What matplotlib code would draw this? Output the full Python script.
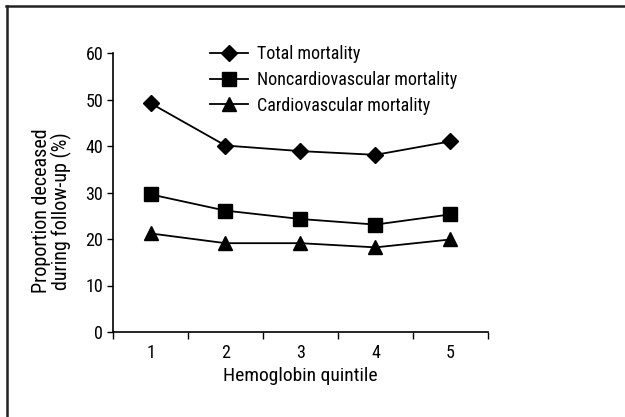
import matplotlib
matplotlib.use("Agg")
import matplotlib.pyplot as plt
from matplotlib.lines import Line2D
from matplotlib import font_manager

# pick a narrow Helvetica-like face if one is installed
narrow_file = None
cands = []
for f in font_manager.fontManager.ttflist:
    fn = f.fname.lower()
    if ('narrow' in fn or 'condensed' in fn) and 'bold' not in fn and 'italic' not in fn \
            and 'oblique' not in fn and 'light' not in fn and 'semi' not in fn and 'extra' not in fn \
            and 'mono' not in fn and 'serif' not in fn.replace('sans', '') and 'black' not in fn \
            and 'medium' not in fn and 'thin' not in fn:
        cands.append(f.fname)
pref = ['liberationsansnarrow', 'robotocondensed', 'arialnarrow', 'opensans_condensed', 'opensanscondensed', 'notosans-condensed', 'dejavusanscondensed']
for p in pref:
    for c in cands:
        if p in c.lower().replace(' ', '').replace('_', '') or p in c.lower():
            narrow_file = c
            break
    if narrow_file:
        break

if narrow_file:
    fp = font_manager.FontProperties(fname=narrow_file)
    fs = 13
else:
    fp = font_manager.FontProperties(family=['Liberation Sans', 'DejaVu Sans'])
    fs = 11.5
plt.rcParams['font.family'] = ['Liberation Sans', 'DejaVu Sans']

quintiles = [1, 2, 3, 4, 5]
total_mortality = [49.2, 40.1, 38.9, 38.1, 41.0]
noncardio_mortality = [29.6, 26.1, 24.3, 23.1, 25.3]
cardio_mortality = [21.2, 19.1, 19.1, 18.2, 19.9]
series_labels = ["Total mortality", "Noncardiovascular mortality", "Cardiovascular mortality"]
y_ticks = [0, 10, 20, 30, 40, 50, 60]

fig = plt.figure(figsize=(6.25, 4.17), dpi=100)
ax = fig.add_axes([113/625, 1-332/417, (488-113)/625, (332-53)/417])

def fprop(size):
    p = fp.copy()
    p.set_size(size)
    return p

ax.plot(quintiles, total_mortality, color='black', lw=1.3, marker='D', ms=8.5, label=series_labels[0])
ax.plot(quintiles, noncardio_mortality, color='black', lw=1.3, marker='s', ms=9.5, label=series_labels[1])
ax.plot(quintiles, cardio_mortality, color='black', lw=1.3, marker='^', ms=10, label=series_labels[2])

ax.set_xlim(0.5, 5.5)
ax.set_ylim(0, 60)
ax.set_xticks([0.5, 1.5, 2.5, 3.5, 4.5, 5.5])
ax.set_xticklabels([])
ax.tick_params(axis='x', which='major', direction='out', length=5, width=1)
ax.set_xticks(quintiles, minor=True)
ax.set_xticklabels([str(q) for q in quintiles], minor=True, fontproperties=fprop(fs))
ax.tick_params(axis='x', which='minor', length=0, pad=9)
ax.set_yticks(y_ticks)
ax.set_yticklabels([str(v) for v in y_ticks], fontproperties=fprop(fs))
ax.tick_params(axis='y', direction='out', length=4, width=1, pad=3)
for s in ['top', 'right']:
    ax.spines[s].set_visible(False)
for s in ['left', 'bottom']:
    ax.spines[s].set_linewidth(1.2)

ax.set_xlabel("Hemoglobin quintile", fontproperties=fprop(fs + 1), labelpad=3)
ax.set_ylabel("Proportion deceased\nduring follow-up (%)", fontproperties=fprop(fs + 1.5),
              linespacing=0.95)
ax.yaxis.set_label_coords(-0.11, 0.435)

leg = ax.legend(loc='upper left', bbox_to_anchor=(0.24, 1.055), frameon=False, prop=fprop(fs),
                handlelength=2.1, handletextpad=0.5, labelspacing=0.44, borderaxespad=0)

# figure frame (top and left edges)
fig.add_artist(Line2D([6/625, 1.0], [1-6/417, 1-6/417], transform=fig.transFigure, color='#222222', lw=1.8))
fig.add_artist(Line2D([7/625, 7/625], [1-6/417, 0.0], transform=fig.transFigure, color='#222222', lw=1.8))

fig.savefig("out.png", dpi=100)
